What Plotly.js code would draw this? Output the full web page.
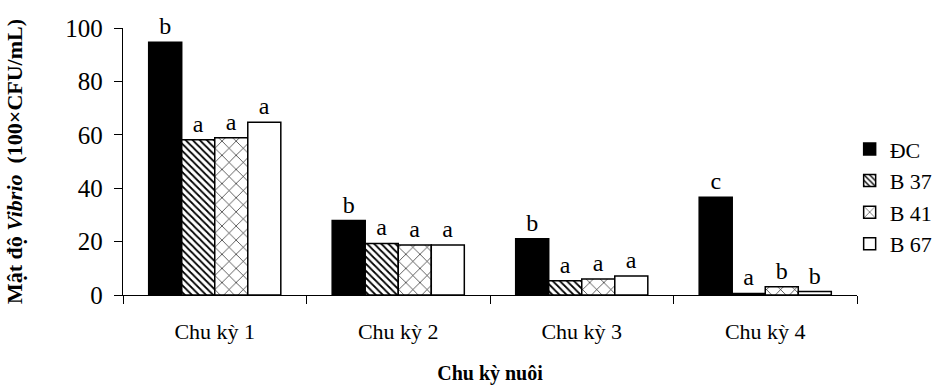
<!DOCTYPE html>
<html>
<head>
<meta charset="utf-8">
<script src="https://cdn.plot.ly/plotly-3.0.1.min.js"></script>
<style>html,body{margin:0;padding:0;background:#fff;}#chart{width:950px;height:387px;}</style>
</head>
<body>
<div id="chart"></div>
<script>
const categories = ["Chu kỳ 1", "Chu kỳ 2", "Chu kỳ 3", "Chu kỳ 4"];
const seriesNames = ["ĐC", "B 37", "B 41", "B 67"];
const valsDC  = [94.7, 27.9, 21.1, 36.6];
const valsB37 = [58.1, 19.3, 5.3, 0.6];
const valsB41 = [58.9, 18.7, 6.0, 3.1];
const valsB67 = [64.7, 18.7, 7.1, 1.3];
const lettersDC  = ["b", "b", "b", "c"];
const lettersB37 = ["a", "a", "a", "a"];
const lettersB41 = ["a", "a", "a", "b"];
const lettersB67 = ["a", "a", "a", "b"];
const yTicks = [0, 20, 40, 60, 80, 100];

const FONT = "Liberation Serif";
const values = [valsDC, valsB37, valsB41, valsB67];
const letters = [lettersDC, lettersB37, lettersB41, lettersB67];
const patterns = [
  {fill: "#000", pattern: {shape: ""}},
  {fill: "#fff", pattern: {shape: "\\", fgcolor: "#000", bgcolor: "#fff", size: 5, solidity: 0.35}},
  {fill: "#fff", pattern: {shape: "x", fgcolor: "#000", bgcolor: "#fff", size: 10, solidity: 0.12}},
  {fill: "#fff", pattern: {shape: ""}}
];

const traces = seriesNames.map((n, i) => ({
  type: "bar",
  name: n,
  x: categories,
  y: values[i],
  text: letters[i],
  textposition: "outside",
  cliponaxis: false,
  constraintext: "none",
  textfont: {family: FONT, size: 24, color: "#000"},
  marker: {
    color: patterns[i].fill,
    pattern: patterns[i].pattern,
    line: {color: "#000", width: 1.5}
  },
  hoverinfo: "none"
}));

const layout = {
  width: 950, height: 387,
  margin: {l: 123, r: 77, t: 28, b: 92},
  paper_bgcolor: "#fff", plot_bgcolor: "#fff",
  barmode: "group",
  bargap: 0.28,
  bargroupgap: 0,
  showlegend: true,
  legend: {
    x: 0.99, xanchor: "left", y: 0.625, yanchor: "top",
    font: {family: FONT, size: 22, color: "#000"},
    bgcolor: "rgba(0,0,0,0)", tracegroupgap: 0
  },
  xaxis: {
    type: "category",
    showline: true, linecolor: "#000", linewidth: 1.3,
    ticks: "outside", tickson: "boundaries", ticklen: 8, tickcolor: "#000", tickwidth: 1,
    ticklabelstandoff: 16,
    tickfont: {family: FONT, size: 22, color: "#000"},
    showgrid: false, zeroline: false,
    title: {text: "<b>Chu kỳ nuôi</b>", font: {family: FONT, size: 20, color: "#000"}, standoff: 23}
  },
  yaxis: {
    range: [0, 100],
    tickvals: yTicks,
    showline: true, linecolor: "#000", linewidth: 1.3,
    ticks: "outside", ticklen: 8, tickcolor: "#000", tickwidth: 1,
    ticklabelstandoff: 6,
    tickfont: {family: FONT, size: 25, color: "#000"},
    showgrid: false, zeroline: false,
    title: {text: "<b>Mật độ <i>Vibrio</i>  (100×CFU/mL)</b>", font: {family: FONT, size: 22, color: "#000"}, standoff: 36}
  },
  font: {family: FONT, color: "#000"}
};

Plotly.newPlot("chart", traces, layout, {displayModeBar: false, staticPlot: true});
</script>
</body>
</html>
